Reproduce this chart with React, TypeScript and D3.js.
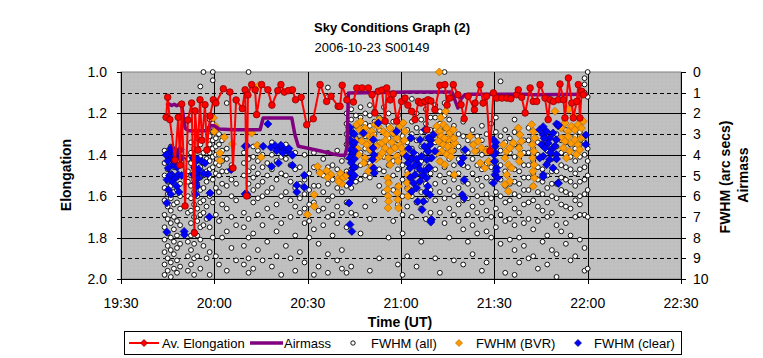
import React from 'react';
import * as d3 from 'd3';

// time in minutes after 19:30 UT
const timeTickMinutes = [0, 30, 60, 90, 120, 150, 180];
const timeTickLabels = ['19:30', '20:00', '20:30', '21:00', '21:30', '22:00', '22:30'];
const elongTicks = [1.0, 1.2, 1.4, 1.6, 1.8, 2.0];
const fwhmTicks = [0, 1, 2, 3, 4, 5, 6, 7, 8, 9, 10];

// Av. Elongation (left axis): [minute, elongation]
const avElongation: [number, number][] = [
  [14.5, 1.219], [15.0, 1.122], [15.7, 1.23], [17.4, 1.425], [18.4, 1.219], [19.0, 1.45], [19.5, 1.155],
  [20.6, 1.647], [21.5, 1.232], [22.7, 1.15], [23.6, 1.778], [23.8, 1.188], [24.7, 1.377], [25.4, 1.134],
  [26.0, 1.33], [27.0, 1.158], [27.6, 1.377], [28.6, 1.213], [29.7, 1.134], [30.5, 1.15], [32.9, 1.081],
  [35.0, 1.097], [36.0, 1.464], [37.0, 1.135], [39.0, 1.177], [39.9, 1.086], [40.4, 1.599], [40.8, 1.111],
  [42.0, 1.061], [43.1, 1.086], [43.6, 1.206], [45.2, 1.061], [47.2, 1.086], [48.5, 1.16], [50.4, 1.09],
  [51.4, 1.061], [52.5, 1.097], [53.8, 1.09], [55.1, 1.086], [56.1, 1.134], [57.9, 1.122], [59.7, 1.255],
  [61.8, 1.226], [64.0, 1.061], [66.1, 1.142], [67.5, 1.117], [69.8, 1.166], [70.4, 1.166], [71.1, 1.064],
  [72.6, 1.135], [74.7, 1.145], [75.8, 1.077], [77.5, 1.077], [79.5, 1.077], [80.7, 1.11], [81.6, 1.198],
  [82.7, 1.093], [83.9, 1.087], [84.9, 1.238], [85.4, 1.077], [86.5, 1.135], [87.5, 1.106], [88.6, 1.238],
  [90.2, 1.142], [91.3, 1.126], [92.2, 1.16], [93.4, 1.19], [94.5, 1.23], [95.6, 1.142], [96.4, 1.15],
  [97.7, 1.142], [98.3, 1.279], [98.7, 1.134], [99.6, 1.14], [100.9, 1.182], [102.5, 1.064], [104.1, 1.061],
  [104.8, 1.16], [105.7, 1.126], [106.8, 1.061], [108.3, 1.11], [109.3, 1.158], [110.3, 1.226], [111.6, 1.117],
  [113.6, 1.182], [113.8, 1.15], [115.4, 1.061], [116.4, 1.15], [117.5, 1.117], [118.6, 1.382], [119.7, 1.101],
  [120.8, 1.126], [122.4, 1.126], [124.0, 1.126], [125.3, 1.129], [127.2, 1.11], [127.7, 1.086], [128.8, 1.122],
  [129.9, 1.198], [131.5, 1.077], [132.5, 1.142], [133.6, 1.142], [134.7, 1.061], [136.3, 1.126], [137.3, 1.23],
  [137.9, 1.134], [139.0, 1.142], [140.6, 1.134], [141.1, 1.058], [142.2, 1.134], [142.7, 1.222], [143.8, 1.029],
  [144.9, 1.15], [145.4, 1.222], [146.5, 1.142], [147.0, 1.061], [147.5, 1.222], [148.1, 1.093], [148.6, 1.11],
];

// Airmass (right axis): [minute, value]
const airmass: [number, number][] = [
  [14.5, 1.61], [15.5, 1.55], [16.3, 1.62], [17.1, 1.56], [17.9, 1.63], [18.7, 1.56], [19.5, 1.61],
  [20.6, 2.71], [21.6, 2.84], [28.1, 2.84], [28.6, 2.57], [30.0, 2.6], [31.5, 2.75], [36.1, 2.79],
  [41.5, 2.79], [44.7, 2.79], [45.7, 2.22], [54.9, 2.22], [55.9, 3.03], [57.0, 3.59], [59.7, 3.67],
  [64.5, 3.83], [68.2, 3.96], [70.4, 4.02], [72.0, 4.02], [72.6, 3.67], [73.1, 1.01], [92.9, 0.97],
  [106.4, 0.97], [107.3, 1.35], [108.3, 1.74], [109.3, 1.3], [110.5, 1.1], [112.2, 1.08], [131.0, 1.08],
  [132.0, 1.1], [150.0, 1.08],
];

// FWHM (all): [minute, values at that minute]
const fwhmAll: [number, number[]][] = [
  [14, [3.8, 4.4, 5.0, 5.6, 6.2, 6.9, 7.5, 8.1, 8.7, 9.3, 9.8]],
  [15, [4.1, 4.7, 5.3, 5.9, 6.5, 7.1, 7.8, 8.4, 9.0, 9.6]],
  [16, [3.6, 4.3, 4.9, 5.5, 6.1, 6.7, 7.3, 8.0, 8.6, 9.2, 9.9]],
  [17, [4.0, 4.6, 5.2, 5.8, 6.4, 7.0, 7.6, 8.2, 8.8, 9.5]],
  [18, [4.5, 5.1, 5.7, 6.3, 7.2, 7.9, 8.5, 9.1, 9.7]],
  [19, [5.4, 6.0, 6.6, 7.4, 8.3, 9.4]],
  [21.5, [4.2, 4.8, 5.3, 6.0, 6.8, 8.2, 8.9, 9.6]],
  [22.5, [3.4, 3.9, 4.4, 5.0, 5.5, 6.1, 6.7, 7.3, 7.9, 8.6, 9.3]],
  [23.5, [3.7, 4.2, 4.7, 5.2, 5.8, 6.4, 7.0, 7.7, 8.3, 9.0, 9.8]],
  [24.5, [3.2, 3.8, 4.3, 4.9, 5.4, 6.0, 6.6, 7.2, 7.9, 8.9]],
  [25.5, [0.7, 3.5, 4.1, 4.6, 5.1, 5.7, 6.3, 6.9, 7.5, 8.1, 9.5]],
  [26.5, [0.0, 3.9, 4.4, 5.0, 5.6, 6.2, 6.8, 7.4, 8.4]],
  [27.5, [4.2, 4.8, 5.3, 6.5, 7.1, 9.0]],
  [28.5, [2.3, 2.7, 3.1, 3.5, 3.9, 4.3, 4.7, 5.1, 6.0, 7.5, 8.7, 9.8]],
  [29.5, [0.0, 0.4, 2.5, 2.9, 3.3, 3.7, 4.1, 4.6, 5.2, 6.3, 8.0]],
  [30.5, [2.8, 3.2, 3.6, 4.0, 4.4, 4.9, 5.6, 6.9, 8.9]],
  [31.5, [3.0, 3.5, 4.0, 4.5, 5.0, 5.8, 7.2, 9.3]],
  [32.5, [3.3, 3.8, 4.3, 4.8, 5.4, 6.4, 8.0]],
  [34, [1.5, 3.7, 4.2, 4.8, 5.5, 6.6, 7.7, 9.6]],
  [35.5, [4.5, 5.2, 6.0, 7.0, 8.5]],
  [37, [5.4, 6.2, 7.4, 9.1]],
  [39.5, [3.9, 4.4, 5.0, 6.8, 7.5, 8.4, 9.3]],
  [41, [0.0, 4.2, 4.8, 5.4, 6.0, 7.1, 8.0, 9.0, 9.7]],
  [42.5, [3.6, 4.1, 4.6, 5.1, 5.7, 6.3, 7.8, 9.5]],
  [44, [3.8, 4.3, 4.9, 5.5, 6.1, 6.9, 8.6]],
  [45.5, [4.0, 4.6, 5.3, 6.0, 7.4, 9.1]],
  [47, [4.4, 5.0, 5.8, 6.6, 8.2]],
  [48.5, [3.4, 4.0, 4.7, 5.6, 7.0, 9.4]],
  [50, [3.7, 4.3, 5.2, 6.4, 7.7, 8.9]],
  [51.5, [4.1, 4.9, 6.0, 7.3, 9.8]],
  [53, [3.5, 4.2, 5.0, 5.8, 8.4]],
  [54.5, [4.5, 5.3, 6.2, 7.0, 9.0]],
  [56, [3.9, 4.7, 5.6, 6.5, 7.9, 9.6]],
  [57.5, [4.6, 5.4, 6.1, 6.8, 8.7]],
  [59, [4.0, 5.2, 5.9, 6.6, 7.3, 9.2]],
  [60.5, [4.9, 5.7, 6.4, 7.2, 8.0]],
  [62, [3.9, 4.6, 5.5, 6.3, 7.6, 9.8]],
  [63.5, [4.8, 5.5, 6.7, 8.3, 9.4]],
  [65, [4.2, 5.0, 5.8, 6.6, 7.4]],
  [66.5, [0.75, 1.2, 3.9, 4.6, 5.4, 6.2, 7.0, 8.8, 9.7]],
  [68, [4.5, 5.2, 6.0, 6.9, 7.9]],
  [69.5, [3.8, 4.7, 5.6, 6.5, 7.3, 9.1]],
  [71, [4.3, 5.0, 5.8, 6.8, 8.6, 9.5]],
  [72.5, [2.0, 2.5, 3.0, 3.5, 4.1, 4.8, 5.5, 6.3, 7.5, 9.7]],
  [74, [1.8, 2.3, 2.8, 3.4, 4.0, 4.7, 5.6, 6.8, 9.4]],
  [75.5, [2.1, 2.6, 3.2, 3.9, 4.6, 5.3, 6.9]],
  [77, [1.7, 2.2, 2.7, 3.3, 3.9, 4.5, 5.2, 7.8]],
  [78.5, [2.0, 2.5, 3.1, 3.7, 4.4, 5.0, 6.5]],
  [80, [1.6, 2.1, 2.6, 3.2, 3.8, 4.4, 5.1, 7.1, 9.6]],
  [81.5, [1.9, 2.4, 3.0, 3.6, 4.2, 4.9, 6.2]],
  [83, [2.2, 2.8, 3.4, 4.0, 4.7, 5.5, 9.0]],
  [84.5, [1.7, 2.3, 2.9, 3.5, 4.1, 4.8, 5.8]],
  [86, [2.0, 2.6, 3.2, 3.8, 4.5, 5.3, 8.0]],
  [87.5, [2.4, 3.0, 3.6, 4.3, 5.0, 5.7, 7.2]],
  [89, [2.1, 2.7, 3.3, 4.0, 4.7, 5.5, 6.4, 9.3]],
  [90.5, [2.5, 3.1, 3.8, 4.5, 5.2, 6.0, 6.9, 7.8, 9.8]],
  [92, [2.8, 3.4, 4.1, 4.8, 5.6, 6.5, 8.9]],
  [93.5, [1.3, 2.4, 3.0, 3.7, 4.4, 5.1, 6.0, 7.0]],
  [95, [2.0, 2.7, 3.3, 4.0, 4.7, 5.5, 6.3, 9.4]],
  [96.5, [2.3, 2.9, 3.6, 4.3, 5.0, 5.8, 6.6, 8.2]],
  [98, [1.8, 2.5, 3.2, 3.9, 4.6, 5.4, 6.2, 7.1]],
  [99.5, [2.2, 2.8, 3.5, 4.2, 4.9, 5.7, 6.8]],
  [101, [1.6, 2.2, 2.8, 3.4, 4.0, 4.7, 5.4, 6.2, 9.0]],
  [102.5, [1.9, 2.5, 3.1, 3.7, 4.3, 5.0, 5.8, 6.8, 9.7]],
  [104, [0.0, 1.5, 2.1, 2.7, 3.3, 3.9, 4.6, 5.3, 6.1, 7.3]],
  [105.5, [2.3, 2.9, 3.5, 4.2, 4.9, 5.7, 6.6, 8.0]],
  [107, [2.6, 3.2, 3.8, 4.5, 5.2, 6.0, 6.9, 9.1]],
  [108.5, [3.0, 3.6, 4.2, 4.9, 5.6, 6.4, 7.2]],
  [110, [2.4, 3.1, 3.8, 4.5, 5.3, 6.2, 7.6, 9.3]],
  [111.5, [3.3, 3.9, 4.6, 5.4, 6.1, 6.9, 8.2]],
  [113, [2.8, 3.5, 4.2, 4.9, 5.7, 6.5, 7.4, 8.8]],
  [114.5, [3.1, 3.8, 4.5, 5.2, 6.0, 6.8, 7.8]],
  [116, [2.6, 3.3, 4.0, 4.7, 5.5, 6.3, 7.1, 9.6]],
  [117.5, [3.0, 3.7, 4.4, 5.1, 5.9, 6.7, 7.7, 9.2]],
  [119, [2.5, 3.2, 3.9, 4.6, 5.3, 6.1, 7.0, 8.0]],
  [120.5, [2.2, 2.9, 3.6, 4.3, 5.0, 5.8, 6.6, 7.5]],
  [122, [0.45, 3.1, 3.8, 4.5, 5.2, 6.0, 6.9, 8.3]],
  [123.5, [2.8, 3.4, 4.1, 4.8, 5.5, 6.3, 7.2, 9.7]],
  [125, [3.2, 3.9, 4.6, 5.4, 6.2, 7.1, 8.1]],
  [126.5, [2.3, 2.9, 3.5, 4.1, 4.7, 5.3, 5.9, 6.6, 7.4, 8.6, 9.8]],
  [128, [3.0, 3.6, 4.2, 4.8, 5.4, 6.0, 6.8, 8.0, 9.2]],
  [129.5, [3.3, 3.9, 4.5, 5.1, 5.7, 6.4, 7.3, 8.4]],
  [131, [2.7, 3.3, 3.9, 4.5, 5.1, 5.7, 6.3, 7.1, 9.0]],
  [132.5, [3.1, 3.7, 4.3, 4.9, 5.5, 6.2, 7.6, 8.9]],
  [134, [3.4, 4.0, 4.6, 5.2, 5.8, 6.5, 7.2, 9.5]],
  [135.5, [2.9, 3.5, 4.1, 4.7, 5.3, 5.9, 6.7, 8.2]],
  [137, [3.2, 3.8, 4.4, 5.0, 5.6, 6.3, 7.0, 7.9, 9.3]],
  [138.5, [3.6, 4.2, 4.8, 5.4, 6.0, 6.8, 8.6]],
  [140, [3.0, 3.6, 4.2, 4.8, 5.4, 6.1, 7.4, 8.8, 9.9]],
  [141.5, [3.3, 3.9, 4.5, 5.1, 5.7, 6.4, 7.7]],
  [143, [2.8, 3.4, 4.0, 4.6, 5.2, 5.8, 6.5, 7.3, 8.3]],
  [144.5, [3.5, 4.1, 4.7, 5.3, 5.9, 6.6, 7.9, 9.1]],
  [146, [3.1, 3.7, 4.3, 4.9, 5.5, 6.2, 7.0, 8.9]],
  [147.5, [2.9, 3.5, 4.1, 4.7, 5.3, 6.0, 6.4, 6.9, 8.1]],
  [149, [0.3, 0.6, 1.0, 3.4, 4.0, 4.6, 5.2, 5.9, 6.9, 8.5, 9.6]],
  [150, [0.0, 1.2, 3.7, 4.3, 5.0, 5.7, 7.0, 9.5]],
];

// FWHM (BVR): [minute, value]
const fwhmBVR: [number, number][] = [
  [29.7, 2.22], [30.4, 2.62], [30.0, 2.87], [33.2, 3.15], [35.8, 3.48], [31.8, 3.91], [31.8, 4.28],
  [44.4, 0.64], [42.0, 2.95], [43.8, 3.54], [45.0, 4.12], [63.2, 4.56], [64.0, 4.88], [66.1, 4.77],
  [67.5, 4.96], [66.4, 5.09], [70.0, 5.12], [62.1, 5.93], [62.1, 6.49], [59.9, 6.89],
  [75.8, 2.54], [76.8, 2.79], [78.4, 2.71], [79.5, 3.03], [80.6, 2.87], [81.6, 2.54], [82.7, 2.62],
  [84.3, 2.87], [85.4, 3.03], [86.5, 2.71], [87.5, 2.95], [88.6, 3.19], [89.7, 2.62], [90.7, 2.46],
  [91.3, 2.87], [75.2, 3.27], [77.4, 3.35], [79.0, 3.51], [80.0, 3.75], [82.2, 3.59], [83.8, 3.43],
  [84.9, 3.67], [86.5, 3.83], [88.1, 3.67], [89.7, 3.51], [90.7, 3.91], [76.3, 3.99], [78.4, 4.15],
  [80.6, 4.56], [79.5, 4.8], [83.2, 4.07], [85.9, 4.15], [88.6, 4.07], [86.5, 4.48], [90.2, 3.67],
  [77.0, 2.4], [81.0, 3.1], [83.0, 2.3], [85.0, 3.3], [87.0, 3.4], [77.8, 3.0], [80.2, 3.3], [82.0, 4.2],
  [84.0, 3.9], [76.0, 3.7], [78.0, 4.4], [89.0, 4.3], [91.0, 3.3],
  [70.5, 4.9], [71.5, 5.1], [71.0, 5.4], [72.5, 5.0], [70.0, 5.3],
  [85.7, 5.12], [86.0, 5.36], [85.6, 5.68], [85.9, 6.0], [86.0, 6.25], [85.8, 6.57],
  [89.2, 5.52], [88.8, 5.84], [89.0, 6.17], [89.2, 6.57],
  [92.2, 4.96], [92.0, 5.36], [92.4, 5.68], [92.2, 6.0],
  [102.3, 0.0], [101.5, 2.62], [102.5, 2.87], [103.6, 2.54], [104.7, 2.71], [105.7, 2.95], [106.8, 2.79],
  [102.0, 3.35], [103.6, 3.51], [105.2, 3.27], [106.3, 3.59], [107.3, 3.43], [103.1, 3.83], [104.7, 3.99],
  [106.3, 3.83], [102.5, 4.32], [104.1, 4.48], [107.1, 4.96], [104.4, 1.9], [116.4, 1.5],
  [101.0, 3.0], [103.0, 3.1], [105.0, 3.6], [106.0, 4.1], [104.0, 3.2], [102.8, 2.2], [101.8, 3.9], [107.0, 3.2],
  [112.2, 3.11], [113.2, 3.51], [113.8, 3.83], [114.8, 3.35], [115.9, 3.67], [117.5, 3.83], [115.4, 4.4],
  [117.0, 4.64], [118.1, 4.32], [118.6, 3.75], [122.9, 3.51], [124.0, 3.83], [125.0, 3.67], [126.1, 3.43],
  [123.4, 4.15], [124.5, 4.48], [125.5, 4.64], [124.0, 4.96], [125.0, 5.28], [123.4, 5.44], [124.5, 5.76],
  [127.7, 2.71], [128.2, 3.03], [128.7, 3.35], [127.9, 3.67], [128.4, 3.99], [128.0, 4.32],
  [132.0, 2.54], [132.5, 2.87], [133.0, 3.19], [132.2, 3.51], [132.7, 3.83], [132.3, 4.15], [132.8, 4.48],
  [132.4, 4.8], [132.9, 5.12], [132.5, 5.52],
  [141.6, 2.71], [142.7, 2.46], [143.7, 2.87], [144.8, 2.62], [145.9, 2.79], [146.9, 2.54], [148.0, 2.71],
  [148.6, 2.38], [141.6, 3.19], [142.7, 3.35], [143.7, 3.11], [144.8, 3.43], [145.9, 3.27], [146.9, 3.51],
  [148.0, 3.19], [142.2, 3.67], [144.2, 3.83], [146.4, 3.99], [143.2, 4.15], [147.5, 3.75], [139.5, 1.9],
  [145.5, 2.1], [143.8, 1.8], [148.6, 3.12],
];

// FWHM (clear): [minute, value]
const fwhmClear: [number, number][] = [
  [15.4, 3.91], [16.1, 4.15], [15.2, 4.64], [16.8, 4.48], [17.6, 4.02], [19.0, 3.75], [19.3, 4.15],
  [16.3, 4.96], [17.4, 5.12], [18.4, 4.96], [17.9, 5.52], [15.2, 5.69], [18.6, 5.8], [14.7, 6.33],
  [14.7, 7.73], [20.3, 7.7], [20.4, 7.86], [23.2, 4.15], [24.0, 4.31], [23.2, 4.96], [24.3, 4.88],
  [24.8, 5.12], [23.8, 5.36], [24.3, 5.52], [25.9, 4.31], [27.0, 4.4], [27.9, 4.93], [28.6, 5.85],
  [28.4, 7.0], [35.4, 4.72], [39.9, 3.59], [39.9, 5.89],
  [15.0, 4.3], [16.0, 3.7], [16.5, 5.3], [17.0, 4.3], [18.0, 3.9], [18.0, 4.6], [19.5, 5.0], [15.6, 5.0],
  [17.2, 3.8], [14.5, 4.0], [16.0, 5.9], [14.8, 5.2], [23.6, 4.6], [24.6, 4.2], [25.0, 4.7], [24.0, 5.9],
  [26.5, 4.9],
  [47.2, 2.51], [40.4, 3.56], [45.7, 3.59], [48.2, 3.64], [50.6, 3.67], [51.4, 3.54], [52.5, 3.75],
  [53.6, 3.83], [55.1, 4.02], [50.6, 4.4], [48.4, 4.56], [55.1, 4.51], [58.9, 4.99], [56.5, 5.47],
  [58.9, 5.57], [56.5, 5.8], [40.4, 5.89], [49.5, 3.55], [50.0, 3.8], [52.0, 3.9], [54.0, 3.7],
  [73.5, 2.67], [74.2, 2.95], [73.6, 3.27], [74.6, 3.51], [73.8, 3.75], [74.4, 3.96], [73.5, 4.15],
  [74.0, 4.39], [74.6, 4.64], [73.8, 4.88], [74.3, 5.12], [73.6, 5.36], [73.3, 6.33], [73.6, 7.37],
  [74.2, 7.7], [75.0, 3.0], [75.0, 3.4], [75.0, 3.8], [75.0, 4.2], [75.0, 4.6], [75.0, 5.0],
  [77.9, 2.95], [81.1, 3.27], [81.0, 3.67], [81.3, 4.0], [80.8, 4.23], [81.2, 4.64], [81.4, 4.88],
  [82.7, 2.46], [88.6, 2.87], [93.2, 3.19], [96.1, 3.27], [97.7, 2.79],
  [91.8, 4.07], [92.3, 4.4], [92.9, 4.64], [94.5, 4.96], [94.0, 5.36], [93.4, 5.77], [95.6, 4.48],
  [96.6, 4.07], [96.1, 5.28], [97.2, 6.25], [96.8, 6.65], [95.4, 6.25], [97.7, 4.8], [98.3, 4.24],
  [98.8, 3.83], [98.6, 5.52], [92.5, 3.7], [93.5, 4.2], [94.0, 3.9], [95.0, 4.2], [95.0, 5.6], [96.0, 4.7],
  [97.0, 5.0], [94.5, 4.5], [93.0, 5.1], [97.5, 3.6], [99.0, 4.6], [98.0, 5.8], [99.5, 3.3],
  [98.2, 2.79], [98.8, 3.19], [99.3, 3.51], [98.6, 3.83], [99.8, 4.15], [99.0, 4.64], [98.2, 5.12],
  [100.4, 3.03], [100.9, 3.83], [99.3, 5.93], [99.8, 7.13], [99.6, 7.25],
  [110.6, 3.75], [110.0, 4.15], [109.3, 4.4], [110.3, 5.2], [109.7, 5.93], [110.3, 6.09],
  [119.7, 3.27], [120.2, 3.59], [120.4, 3.91], [120.0, 4.32], [120.7, 4.64], [120.2, 4.96], [119.7, 5.36],
  [121.0, 5.12], [120.5, 3.4], [119.9, 4.0], [120.6, 4.8],
  [134.6, 2.79], [135.7, 3.03], [136.8, 2.87], [137.8, 3.19], [138.9, 2.95], [139.9, 3.27], [135.2, 3.51],
  [136.3, 3.67], [137.3, 3.43], [138.4, 3.75], [139.4, 3.59], [135.7, 4.07], [137.8, 4.23], [139.9, 3.99],
  [136.8, 4.48], [138.9, 4.64], [134.6, 4.15], [135.7, 4.96], [140.5, 5.36], [136.0, 3.2], [138.0, 3.9],
  [140.0, 4.2], [140.0, 2.51], [140.5, 2.6], [135.7, 2.64], [140.6, 2.56], [149.4, 3.04], [149.4, 3.5],
  [135.7, 5.06], [140.6, 5.38],
];

const FONT = "Arial, 'Liberation Sans', sans-serif";

function diamond(cx: number, cy: number, r: number) {
  return `M${cx},${cy - r}L${cx + r},${cy}L${cx},${cy + r}L${cx - r},${cy}Z`;
}

export default function App() {
  const W = 763;
  const H = 358;
  const L = 121, R = 681, T = 72, B = 279;
  const x = d3.scaleLinear().domain([0, 180]).range([L, R]);
  const yL = d3.scaleLinear().domain([1, 2]).range([T, B]);
  const yR = d3.scaleLinear().domain([0, 10]).range([T, B]);
  const lineE = d3.line<[number, number]>().x(d => x(d[0])).y(d => yL(d[1]));
  const lineA = d3.line<[number, number]>().x(d => x(d[0])).y(d => yR(d[1]));
  const crisp = (v: number) => Math.round(v) + 0.5;

  const allPts = fwhmAll.flatMap(([t, vs]) => vs.map(v => [t, v] as [number, number]));

  return (
    <svg width={W} height={H} style={{ position: 'absolute', left: 0, top: 0, background: '#fff' }}
      fontFamily={FONT}>
      <defs>
        <pattern id="bg" width="4" height="4" patternUnits="userSpaceOnUse">
          <rect width="4" height="4" fill="#c0c0c0" />
          <rect x="1" y="1" width="1" height="1" fill="#a9c3a9" />
        </pattern>
      </defs>
      <rect x={0} y={0} width={W} height={H} fill="#fff" />
      {/* title */}
      <text x={392} y={32} textAnchor="middle" fontSize={13} fontWeight="bold">Sky Conditions Graph (2)</text>
      <text x={372} y={52} textAnchor="middle" fontSize={13}>2006-10-23 S00149</text>

      {/* plot area */}
      <rect x={L} y={T} width={R - L} height={B - T} fill="url(#bg)" stroke="#808080" strokeWidth={1} />

      {/* horizontal grid */}
      {fwhmTicks.filter(v => v > 0 && v < 10).map(v => (
        <line key={'h' + v} x1={L} x2={R} y1={crisp(yR(v))} y2={crisp(yR(v))} stroke="#000" strokeWidth={1}
          strokeDasharray={v % 2 === 1 ? '4,3' : undefined} />
      ))}
      {/* vertical grid */}
      {timeTickMinutes.filter(t => t > 0 && t < 180).map(t => (
        <line key={'v' + t} x1={crisp(x(t))} x2={crisp(x(t))} y1={T} y2={B} stroke="#000" strokeWidth={1} />
      ))}

      {/* FWHM (all) */}
      {allPts.map((d, i) => (
        <circle key={'w' + i} cx={x(d[0])} cy={yR(d[1])} r={2.4} fill="#fff" stroke="#000" strokeWidth={0.9} />
      ))}
      {/* FWHM (BVR) */}
      {fwhmBVR.map((d, i) => (
        <path key={'o' + i} d={diamond(x(d[0]), yR(d[1]), 4)} fill="#ff9900" stroke="#b36b00" strokeWidth={0.7} />
      ))}
      {/* FWHM (clear) */}
      {fwhmClear.map((d, i) => (
        <path key={'b' + i} d={diamond(x(d[0]), yR(d[1]), 4)} fill="#0000ff" stroke="#000080" strokeWidth={0.7} />
      ))}
      {/* Airmass */}
      <path d={lineA(airmass) || ''} fill="none" stroke="#800080" strokeWidth={3.5} strokeLinejoin="round" />
      {/* Av. Elongation */}
      <path d={lineE(avElongation) || ''} fill="none" stroke="#ff0000" strokeWidth={2} strokeLinejoin="round" />
      {avElongation.map((d, i) => (
        <circle key={'r' + i} cx={x(d[0])} cy={yL(d[1])} r={3.3} fill="#ff0000" stroke="#8b0000" strokeWidth={0.8} />
      ))}

      {/* axes */}
      <line x1={L + 0.5} x2={L + 0.5} y1={T} y2={B + 0.5} stroke="#000" />
      <line x1={R + 0.5} x2={R + 0.5} y1={T} y2={B + 0.5} stroke="#000" />
      <line x1={L} x2={R + 1} y1={B + 0.5} y2={B + 0.5} stroke="#000" />
      {elongTicks.map(v => (
        <g key={'lt' + v}>
          <line x1={L - 4} x2={L} y1={crisp(yL(v))} y2={crisp(yL(v))} stroke="#000" />
          <text x={107} y={yL(v) + 5} textAnchor="end" fontSize={14}>{v.toFixed(1)}</text>
        </g>
      ))}
      {fwhmTicks.map(v => (
        <g key={'rt' + v}>
          <line x1={R} x2={R + 5} y1={crisp(yR(v))} y2={crisp(yR(v))} stroke="#000" />
          <text x={693} y={yR(v) + 5} textAnchor="start" fontSize={14}>{v}</text>
        </g>
      ))}
      {timeTickMinutes.map((t, i) => (
        <g key={'bt' + t}>
          <line x1={crisp(x(t))} x2={crisp(x(t))} y1={B} y2={B + 5} stroke="#000" />
          <text x={x(t)} y={308} textAnchor="middle" fontSize={14}>{timeTickLabels[i]}</text>
        </g>
      ))}

      {/* axis titles */}
      <text transform={`translate(71,175) rotate(-90)`} textAnchor="middle" fontSize={14} fontWeight="bold">Elongation</text>
      <text transform={`translate(730,177) rotate(-90)`} textAnchor="middle" fontSize={14} fontWeight="bold">FWHM (arc secs)</text>
      <text transform={`translate(748,175) rotate(-90)`} textAnchor="middle" fontSize={14} fontWeight="bold">Airmass</text>
      <text x={400} y={327} textAnchor="middle" fontSize={14} fontWeight="bold">Time (UT)</text>

      {/* legend */}
      <rect x={124.5} y={331.5} width={557} height={23} fill="#fff" stroke="#000" />
      <line x1={129} x2={159} y1={343} y2={343} stroke="#ff0000" strokeWidth={2} />
      <path d={diamond(144, 343, 3.5)} fill="#ff0000" stroke="#8b0000" strokeWidth={0.8} />
      <text x={162} y={348} fontSize={13}>Av. Elongation</text>
      <line x1={250} x2={283} y1={343} y2={343} stroke="#800080" strokeWidth={3.5} />
      <text x={284} y={348} fontSize={13}>Airmass</text>
      <circle cx={353} cy={343} r={2.2} fill="#fff" stroke="#000" strokeWidth={0.9} />
      <text x={371} y={348} fontSize={13}>FWHM (all)</text>
      <path d={diamond(459, 343, 3.5)} fill="#ff9900" stroke="#b36b00" strokeWidth={0.7} />
      <text x={476} y={348} fontSize={13}>FWHM (BVR)</text>
      <path d={diamond(578, 343, 3.5)} fill="#0000ff" stroke="#000080" strokeWidth={0.7} />
      <text x={594} y={348} fontSize={13}>FWHM (clear)</text>
    </svg>
  );
}
